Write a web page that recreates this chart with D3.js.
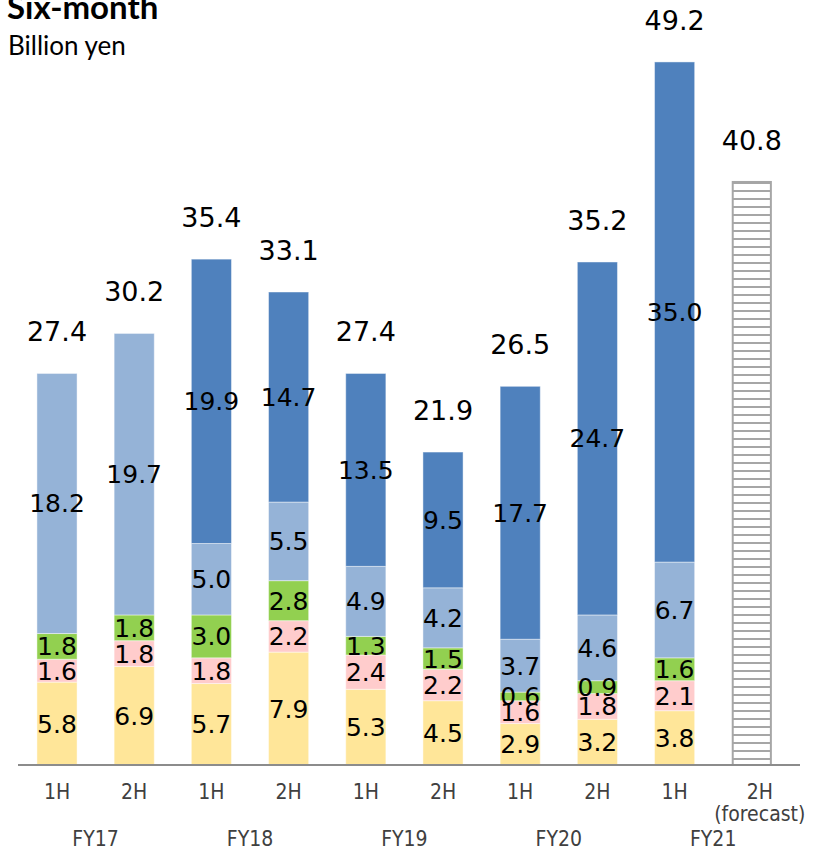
<!DOCTYPE html>
<html>
<head>
<meta charset="utf-8">
<script src="https://cdn.jsdelivr.net/npm/d3@7"></script>
<style>
html,body{margin:0;padding:0;background:#fff;}
svg{display:block;}
</style>
</head>
<body>
<svg id="chart" width="821" height="853"></svg>
<script>
const halves = ["1H","2H","1H","2H","1H","2H","1H","2H","1H","2H"];
const fiscalYears = ["FY17","FY18","FY19","FY20","FY21"];
const seriesNames = ["s1","s2","s3","s4","s5"];
const s1 = [5.8, 6.9, 5.7, 7.9, 5.3, 4.5, 2.9, 3.2, 3.8, 0];
const s2 = [1.6, 1.8, 1.8, 2.2, 2.4, 2.2, 1.6, 1.8, 2.1, 0];
const s3 = [1.8, 1.8, 3.0, 2.8, 1.3, 1.5, 0.6, 0.9, 1.6, 0];
const s4 = [18.2, 19.7, 5.0, 5.5, 4.9, 4.2, 3.7, 4.6, 6.7, 0];
const s5 = [0, 0, 19.9, 14.7, 13.5, 9.5, 17.7, 24.7, 35.0, 0];
const totals = [27.4, 30.2, 35.4, 33.1, 27.4, 21.9, 26.5, 35.2, 49.2, 40.8];
const forecast = [0,0,0,0,0,0,0,0,0,40.8];
const colors = ["#FFE699","#FFCCCC","#92D050","#95B3D7","#4F81BD"];

const svg = d3.select("#chart");
const ids = d3.range(halves.length);
const table = ids.map(i => ({i, s1:s1[i], s2:s2[i], s3:s3[i], s4:s4[i], s5:s5[i]}));

const x = d3.scaleBand().domain(ids).range([18.4, 790.4]).paddingInner(0.48).paddingOuter(0.24);
const y = d3.scaleLinear().domain([0, 50]).range([765, 50.5]);

const defs = svg.append("defs");
const pat = defs.append("pattern").attr("id","hatch").attr("patternUnits","userSpaceOnUse")
  .attr("width", 8).attr("height", 8);
pat.append("rect").attr("width",8).attr("height",8).attr("fill","#fff");
pat.append("rect").attr("y",6).attr("width",8).attr("height",2).attr("fill","#a6a6a6");

const stack = d3.stack().keys(seriesNames)(table);
const segs = stack.flatMap((layer,k) => layer.filter(p => p[1] - p[0] > 0).map(p => ({k, i:p.data.i, y0:p[0], y1:p[1]})));

svg.append("g").selectAll("rect").data(segs).join("rect")
  .attr("fill", d => colors[d.k])
  .attr("x", d => x(d.i))
  .attr("width", x.bandwidth())
  .attr("y", d => y(d.y1))
  .attr("height", d => y(d.y0) - y(d.y1))
  .attr("stroke", "#fff").attr("stroke-opacity", 0.45).attr("stroke-width", 1);

// forecast bar
svg.append("g").selectAll("rect").data(ids.filter(i => forecast[i] > 0)).join("rect")
  .attr("x", i => x(i) + 1)
  .attr("width", x.bandwidth() - 2)
  .attr("y", i => y(forecast[i]))
  .attr("height", i => y(0) - y(forecast[i]))
  .attr("fill", "url(#hatch)")
  .attr("stroke", "#a6a6a6").attr("stroke-width", 2);

// segment labels (drawn after all bars)
svg.append("g").selectAll("text").data(segs).join("text")
  .attr("x", d => x(d.i) + x.bandwidth()/2)
  .attr("y", d => y((d.y0 + d.y1) / 2))
  .attr("dy", "0.36em")
  .attr("text-anchor", "middle")
  .attr("font-family", "DejaVu Sans, Verdana, sans-serif")
  .attr("font-size", 25)
  .attr("fill", "#000")
  .text(d => (d.y1 - d.y0).toFixed(1));

// totals
svg.append("g").selectAll("text").data(ids).join("text")
  .attr("x", i => x(i) + x.bandwidth()/2)
  .attr("y", i => y(totals[i]) - 32)
  .attr("text-anchor", "middle")
  .attr("font-family", "DejaVu Sans, Verdana, sans-serif")
  .attr("font-size", 27)
  .attr("fill", "#000")
  .text(i => totals[i].toFixed(1));

// axis line
svg.append("line").attr("x1", 18).attr("x2", 800).attr("y1", y(0)).attr("y2", y(0))
  .attr("stroke", "#8c8c8c").attr("stroke-width", 2);

// category labels
const lab = svg.append("g").attr("font-family", "DejaVu Sans Condensed, DejaVu Sans, sans-serif")
  .attr("font-size", 21).attr("fill", "#404040").attr("text-anchor", "middle");
lab.selectAll("text.h").data(ids).join("text").attr("class","h")
  .attr("x", i => x(i) + x.bandwidth()/2 + (i === ids.length-1 ? 8 : 0))
  .attr("y", 799)
  .text(i => halves[i]);
lab.append("text").attr("x", x(ids.length-1) + x.bandwidth()/2 + 8).attr("y", 821).text("(forecast)");
lab.selectAll("text.fy").data(fiscalYears).join("text").attr("class","fy")
  .attr("x", (d,k) => (x(2*k) + x(2*k+1))/2 + x.bandwidth()/2)
  .attr("y", 846)
  .text(d => d);

// title
svg.append("text").attr("x", 7).attr("y", 19)
  .attr("font-family", "Lato, sans-serif").attr("font-weight", "bold").attr("font-size", 33)
  .attr("fill", "#000").text("Six-month");
svg.append("text").attr("x", 8).attr("y", 55)
  .attr("font-family", "Lato, sans-serif").attr("font-size", 26)
  .attr("fill", "#000").text("Billion yen");
</script>
</body>
</html>
